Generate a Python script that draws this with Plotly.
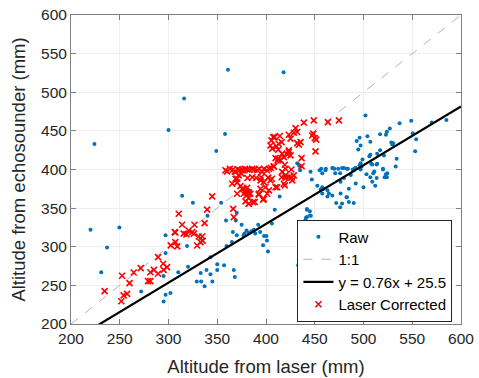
import plotly.graph_objects as go

# Raw (blue dots)
raw_x = [224, 300, 316, 361, 349, 358, 418, 502,
         220, 249.6, 237, 231, 297, 297, 295, 272, 297, 302, 295,
         314, 319, 310, 320, 329, 333.5, 337, 345, 333, 339, 343, 350, 350, 357, 367, 368, 343, 359.5, 365, 366, 370,
         375, 377, 378, 380, 382, 385, 387.5, 389, 392, 394, 398, 400.5, 401, 397, 402, 369, 359, 340, 325, 354, 370, 409,
         406, 442, 445, 442, 446, 440.5, 451.5, 433, 414,
         549, 570, 585, 537, 527, 524, 517, 523, 550.5, 554, 504, 496, 493, 507, 497, 528.5, 530.5, 529.5, 517, 494.6,
         553, 514, 507, 506, 499, 534, 521, 514, 508, 497, 496, 533, 432, 436, 434, 435,
         456.7, 461.4, 468, 470, 478, 483, 489, 492, 520, 445.7, 455, 461, 457.7, 474, 476, 471, 468.6, 480, 484, 487,
         490, 491.6, 497, 498, 503, 507, 510, 511, 520, 523, 524, 512, 513.5, 521.7, 524.4, 513.5, 509,
         447, 452.6, 457.7, 459, 456, 463, 464.5, 457.7, 468, 476.5, 482.6, 485, 478, 490, 472, 476, 442, 445, 441, 451,
         476.5, 480, 485, 492, 500, 509, 483, 463]
raw_y = [433, 451, 492, 529, 424, 446, 526, 470,
         322, 325, 299, 267, 315, 292, 262, 242, 238, 240, 229,
         366, 301, 267, 274, 255, 255, 249, 255, 266, 270, 264.5, 277.5, 270, 276, 270, 261, 286.5, 301, 306, 319, 315,
         328.5, 315, 317, 321, 318, 320, 322, 317, 328.5, 319, 314, 314, 308, 302, 294, 334, 334, 340, 357, 357, 344, 348,
         330, 348, 346, 338.5, 340, 335, 321.5, 276, 365,
         463, 461, 464, 460, 453, 449, 445.5, 445, 447, 439, 443, 441, 437, 436, 431, 435, 434, 432.5, 425, 426,
         423.5, 420.5, 419, 417, 413, 414, 418, 407.5, 407.5, 408, 405.6, 404, 408, 404, 405, 399,
         401, 401, 402, 401, 402, 401, 400, 402, 401, 397, 399, 399, 395, 401, 395, 395, 402, 402, 401, 393,
         400, 402, 400, 404, 394, 390, 395, 397.5, 400, 394, 390, 379, 389, 390, 395, 406.6, 406.6,
         387, 379, 377, 375, 374, 373, 369, 369, 366.5, 369, 364, 358, 356, 356.5, 356.5, 351, 349, 340.5, 337.6, 321,
         384, 389, 375, 382, 377, 384, 364, 365]

# Laser Corrected (red crosses)
cor_x = [234.5, 251.6, 252.4, 254, 257.5, 260, 264.3, 271.5, 279, 281.4, 281.4, 285, 289.3, 289.3, 294.5, 295, 298.5,
         302.3, 307, 307, 309, 306.4, 310.5, 314, 315.6, 318.4, 320.7, 324.2, 326.6, 326, 329.4, 332.8, 334.5, 335, 331,
         337, 339.6, 344.8,
         360, 365.3, 366.3, 367, 370.4, 369, 375.6, 377, 379, 380.7, 382.3, 380, 384, 386.8, 382.3, 392.6, 397, 399.5,
         394.4, 368, 370.4,
         358.4, 363, 366, 371, 373, 377, 378.5, 380.7, 383, 385.8, 388, 391, 393, 396, 398, 401, 403, 405, 408, 416.6,
         420, 426,
         372, 368.7, 374.8, 381, 386, 390, 395, 402.3, 406, 416, 420, 423.4, 426.2, 428.5, 420,
         370.4, 373.8, 375.6, 379, 380.7, 377.2, 382.3, 382.3, 379, 382.3, 392.6, 401.2, 397.7, 403, 394.4, 388.5, 397.7,
         409.8, 418.3, 419.3, 411.5, 426.9, 404.6,
         449, 438.8, 430.3, 432, 428.5, 423.4, 425.2, 414.2, 407.4, 405.6, 413, 406.4, 433.7, 432, 435.4, 447.4, 450,
         450.8, 423.4, 416.6, 421.8, 418.3, 409.8, 414.9, 436.5, 436.5, 419.3, 463.5, 474.8, 451.5, 448.5, 404.6, 410.8,
         412.5, 412, 408, 416, 423.4, 425.2, 412.5, 408.7]
cor_y = [242.5, 229.5, 262.4, 237, 239, 253, 266.7, 272.3, 255.5, 255.5, 267, 270, 265, 286.6, 278, 270, 273.6,
         301.7, 318.5, 306, 300.4, 319, 342.7, 328.5, 317, 316, 321, 319, 328.5, 317, 301.6, 306, 313.3, 308, 313.3,
         330.6, 348, 365.2,
         397.5, 381.6, 349, 338.4, 368.6, 396.7, 399, 375, 370.7, 376.4, 370.7, 366.5, 368.6, 357.8, 355.7, 368.6, 361,
         377, 386, 397.5, 388,
         399, 401, 400, 400.5, 399, 399, 401, 400, 399.5, 401, 400, 399, 401, 397, 400.5, 399, 401, 402, 404, 397,
         401, 400,
         392.4, 388, 394.6, 389, 390, 389, 390, 389.4, 388, 390, 389.4, 390, 389.4, 392.4, 392.4,
         383, 378.5, 375, 373, 370.7, 368.6, 368.6, 363, 358.7, 355.7, 367.4, 368.6, 362, 373, 375, 358, 383.7,
         377, 381.6, 379.4, 377, 386, 386,
         463.6, 460.6, 453.6, 448.5, 447.6, 445, 440, 443.3, 442, 437.7, 433.4, 427, 432, 434.2, 435.5, 444, 440.7,
         423.4, 424.7, 420.5, 419.2, 416, 414.8, 411.8, 414.8, 404.4, 406.2, 461.4, 463.6, 438.6, 446.4, 431, 430,
         425.6, 411.8, 404, 435.5, 422.5, 418.3, 414, 442]

axis_range = [200, 600]
tick_vals = [200, 250, 300, 350, 400, 450, 500, 550, 600]
fit_slope = 0.76
fit_intercept = 25.5
one_to_one = [200, 600]

fit_x = axis_range
fit_y = [fit_slope * v + fit_intercept for v in fit_x]

FONT = "Liberation Sans, Arial, Helvetica, sans-serif"
TXT = "#262626"

fig = go.Figure()
fig.add_trace(go.Scatter(x=raw_x, y=raw_y, mode="markers", name="Raw",
                         marker=dict(color="#0072BD", size=4, line=dict(width=0))))
fig.add_trace(go.Scatter(x=one_to_one, y=one_to_one, mode="lines", name="1:1",
                         line=dict(color="#b3b3b3", width=1, dash="dash")))
fig.add_trace(go.Scatter(x=fit_x, y=fit_y, mode="lines", name="y = 0.76x + 25.5",
                         line=dict(color="black", width=2.2)))
fig.add_trace(go.Scatter(x=cor_x, y=cor_y, mode="markers", name="Laser Corrected",
                         marker=dict(symbol="x-thin", size=6, line=dict(color="#ff0000", width=1.6),
                                     color="#ff0000")))

axis_common = dict(range=axis_range, tickvals=tick_vals, showgrid=True, gridcolor="#efefef", gridwidth=1,
                   showline=True, linecolor="#808080", linewidth=1, mirror="ticks",
                   ticks="inside", ticklen=5, tickcolor="#808080", zeroline=False, automargin=False,
                   tickfont=dict(family=FONT, size=15.5, color=TXT))

fig.update_xaxes(**axis_common, title=dict(text="Altitude from laser (mm)",
                                           font=dict(family=FONT, size=18.5, color=TXT), standoff=14))
fig.update_yaxes(**axis_common, title=dict(text="Altitude from echosounder (mm)",
                                           font=dict(family=FONT, size=18.5, color=TXT), standoff=10))

fig.update_layout(
    width=479, height=378,
    margin=dict(l=71, r=18, t=15, b=54),
    plot_bgcolor="white", paper_bgcolor="white",
    font=dict(family=FONT, color=TXT),
    legend=dict(x=0.978, y=0.008, xanchor="right", yanchor="bottom",
                bgcolor="white", bordercolor=TXT, borderwidth=1,
                font=dict(family=FONT, size=15, color="black"), tracegroupgap=0,
                itemwidth=30),
    showlegend=True,
)

fig.write_html("out.html", config={"displayModeBar": False},
               post_script="document.body.style.margin='0px';")
